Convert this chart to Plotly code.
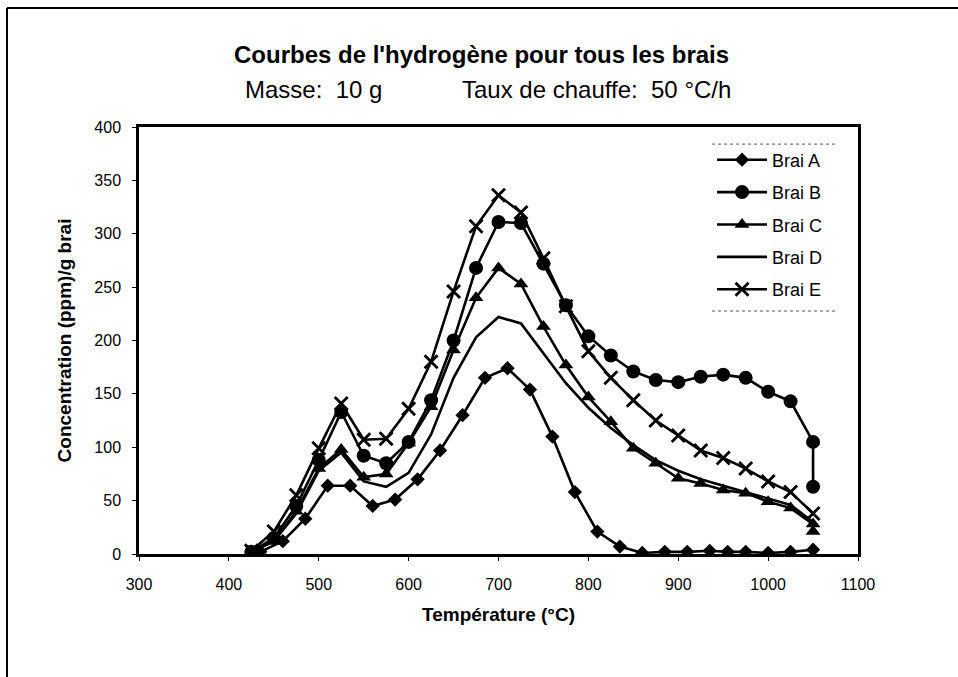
import plotly.graph_objects as go

# ---- data ----
temp_A = [435, 460, 485, 510, 535, 560, 585, 610, 635, 660, 685, 710, 735, 760,
          785, 810, 835, 860, 885, 910, 935, 955, 975, 1000, 1025, 1050]
brai_A = [2, 12, 33, 64, 64, 45, 51, 70, 97, 130, 165, 174, 154, 110,
          58, 21, 7, 1, 2, 2, 3, 2, 2, 1, 2, 4]

temp_B = [425, 450, 475, 500, 525, 550, 575, 600, 625, 650, 675, 700, 725, 750,
          775, 800, 825, 850, 875, 900, 925, 950, 975, 1000, 1025, 1050, 1050]
brai_B = [2, 15, 45, 88, 133, 92, 85, 105, 144, 200, 268, 311, 310, 272,
          233, 204, 186, 171, 163, 161, 166, 168, 165, 152, 143, 105, 63]

temp_C = [425, 450, 475, 500, 525, 550, 575, 600, 625, 650, 675, 700, 725, 750,
          775, 800, 825, 850, 875, 900, 925, 950, 975, 1000, 1025, 1050, 1050]
brai_C = [2, 12, 40, 80, 98, 72, 75, 104, 138, 191, 240, 268, 253, 213,
          177, 147, 124, 99, 85, 71, 66, 60, 57, 49, 43, 28, 21]

temp_D = [425, 450, 475, 500, 525, 550, 575, 600, 625, 650, 675, 700, 725, 750,
          775, 800, 825, 850, 875, 900, 925, 950, 975, 1000, 1025, 1050]
brai_D = [2, 12, 38, 78, 95, 68, 63, 76, 112, 165, 203, 222, 216, 188,
          160, 137, 118, 102, 88, 78, 70, 64, 58, 52, 46, 30]

temp_E = [425, 450, 475, 500, 525, 550, 575, 600, 625, 650, 675, 700, 725, 750,
          775, 800, 825, 850, 875, 900, 925, 950, 975, 1000, 1025, 1050]
brai_E = [3, 21, 55, 99, 141, 107, 108, 136, 180, 246, 307, 336, 320, 277,
          232, 190, 165, 144, 125, 111, 97, 90, 80, 68, 58, 38]

series_names = ["Brai A", "Brai B", "Brai C", "Brai D", "Brai E"]
x_ticks = [300, 400, 500, 600, 700, 800, 900, 1000, 1100]
y_ticks = [0, 50, 100, 150, 200, 250, 300, 350, 400]

title_text = "<b>Courbes de l'hydrogène pour tous les brais</b>"
subtitle_left = "Masse:  10 g"
subtitle_right = "Taux de chauffe:  50 °C/h"
x_title = "<b>Température (°C)</b>"
y_title = "<b>Concentration (ppm)/g brai</b>"

FONT = "Liberation Sans, Arial, sans-serif"
BLACK = "#000000"

styles = [
    dict(mode="lines+markers", marker=dict(symbol="diamond", size=11, color=BLACK)),
    dict(mode="lines+markers", marker=dict(symbol="circle", size=14, color=BLACK)),
    dict(mode="lines+markers", marker=dict(symbol="triangle-up", size=13, color=BLACK)),
    dict(mode="lines"),
    dict(mode="lines+markers", marker=dict(symbol="x-thin-open", size=13, color=BLACK,
                                           line=dict(width=2.8, color=BLACK))),
]

xs = [temp_A, temp_B, temp_C, temp_D, temp_E]
ys = [brai_A, brai_B, brai_C, brai_D, brai_E]

fig = go.Figure()
for i, name in enumerate(series_names):
    fig.add_trace(go.Scatter(
        x=xs[i], y=ys[i], name=name,
        line=dict(color=BLACK, width=2.6),
        legendgroup=name,
        **styles[i],
    ))

fig.update_layout(
    width=958, height=677,
    margin=dict(l=139, r=100, t=127, b=123),
    paper_bgcolor="white", plot_bgcolor="white",
    font=dict(family=FONT, color=BLACK, size=16),
    showlegend=True,
    legend=dict(
        x=0.797, y=0.966, xanchor="left", yanchor="top",
        bgcolor="rgba(0,0,0,0)", borderwidth=0,
        font=dict(size=18, family=FONT, color=BLACK),
        itemwidth=50, traceorder="grouped", tracegroupgap=6,
    ),
    xaxis=dict(
        range=[300, 1100], tickvals=x_ticks, ticktext=[str(v) for v in x_ticks],
        showgrid=False, zeroline=False,
        showline=True, linecolor=BLACK, linewidth=2.5, mirror=True,
        ticks="outside", ticklen=4, tickwidth=1, tickcolor=BLACK,
        tickfont=dict(size=16, family=FONT), ticklabelstandoff=10,
        title=dict(text=x_title, font=dict(size=19, family=FONT), standoff=16),
    ),
    yaxis=dict(
        range=[0, 400], tickvals=y_ticks, ticktext=[str(v) for v in y_ticks],
        showgrid=False, zeroline=False,
        showline=True, linecolor=BLACK, linewidth=2.5, mirror=True,
        ticks="outside", ticklen=4, tickwidth=1, tickcolor=BLACK,
        tickfont=dict(size=16, family=FONT), ticklabelstandoff=8,
        title=dict(text=y_title, font=dict(size=19, family=FONT), standoff=18),
    ),
    annotations=[
        dict(text=title_text, xref="paper", yref="paper", x=0.476, y=1.17,
             showarrow=False, xanchor="center", yanchor="middle",
             font=dict(size=24, family=FONT, color=BLACK)),
        dict(text=subtitle_left, xref="paper", yref="paper", x=0.243, y=1.087,
             showarrow=False, xanchor="center", yanchor="middle",
             font=dict(size=24, family=FONT, color=BLACK)),
        dict(text=subtitle_right, xref="paper", yref="paper", x=0.636, y=1.087,
             showarrow=False, xanchor="center", yanchor="middle",
             font=dict(size=24, family=FONT, color=BLACK)),
    ],
    shapes=[
        # outer frame (left and top edges visible in the reference)
        dict(type="line", xref="paper", yref="paper", x0=-0.1836, x1=-0.1836,
             y0=-0.29, y1=1.2787, line=dict(color=BLACK, width=2)),
        dict(type="line", xref="paper", yref="paper", x0=-0.1836, x1=1.14,
             y0=1.2787, y1=1.2787, line=dict(color=BLACK, width=2)),
        # faint legend box edges
        dict(type="line", xref="paper", yref="paper", x0=0.797, x1=0.971,
             y0=0.960, y1=0.960, line=dict(color="#555555", width=1, dash="dot")),
        dict(type="line", xref="paper", yref="paper", x0=0.797, x1=0.971,
             y0=0.569, y1=0.569, line=dict(color="#555555", width=1, dash="dot")),
    ],
)

fig.write_html("out.html", config={"displayModeBar": False},
               post_script="document.body.style.margin='0';document.body.style.overflow='hidden';")
